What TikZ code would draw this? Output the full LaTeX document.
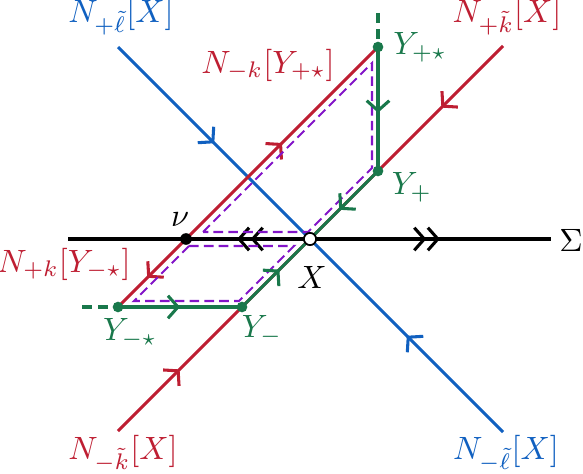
\documentclass[tikz,border=0pt]{standalone}
\usetikzlibrary{arrows.meta,decorations.markings}
\definecolor{myblue}{RGB}{16,96,192}
\definecolor{myred}{RGB}{190,30,50}
\definecolor{mygreen}{RGB}{25,120,75}
\definecolor{mypurple}{RGB}{130,20,200}
\tikzset{
  ln/.style={line width=0.95pt},
  fwd/.style={postaction={decorate,decoration={markings,mark=at position #1 with {\arrow{Straight Barb[length=3.1pt,width=7pt]}}}}},
  bwd/.style={postaction={decorate,decoration={markings,mark=at position #1 with {\arrowreversed{Straight Barb[length=3.1pt,width=7pt]}}}}},
  dfwd/.style={postaction={decorate,decoration={markings,mark=at position #1 with {\arrow{Straight Barb[length=3.1pt,width=7pt]Straight Barb[length=3.1pt,width=7pt]}}}}},
  dbwd/.style={postaction={decorate,decoration={markings,mark=at position #1 with {\arrowreversed{Straight Barb[length=3.1pt,width=7pt]Straight Barb[length=3.1pt,width=7pt]}}}}},
  pdash/.style={mypurple,line width=0.65pt,dash pattern=on 3pt off 1.6pt},
  gdash/.style={mygreen,ln,dash pattern=on 3pt off 2pt},
  fdot/.style={circle,fill,inner sep=0pt,minimum size=3.3pt},
  odot/.style={circle,draw=black,fill=white,line width=0.55pt,inner sep=0pt,minimum size=3.8pt},
  lab/.style={inner sep=0pt}
}
\begin{document}
\begin{tikzpicture}[x=0.31pt,y=-0.31pt]
\useasboundingbox (0,0) rectangle (583,473);
% points
\coordinate (X) at (310,239);
\coordinate (nu) at (186,239);
\coordinate (Yp) at (378,171);
\coordinate (Ym) at (242,307);
\coordinate (Yps) at (378,47);
\coordinate (Yms) at (118,307);
\coordinate (bl1) at (118,47);
\coordinate (bl2) at (503,432);
\coordinate (rd1) at (503,46);
\coordinate (rd2) at (118,431);
\coordinate (s1) at (68,239);
\coordinate (s2) at (551,239);
\coordinate (gtop) at (378,13);
\coordinate (gleft) at (82,307);
% purple loops
\coordinate (pa) at (203,232);
\coordinate (pb) at (372,63);
\coordinate (pc) at (372,168);
\coordinate (pd) at (308,232);
\coordinate (qa) at (189,246);
\coordinate (qb) at (294,246);
\coordinate (qc) at (239,301);
\coordinate (qd) at (134,301);
% Sigma
\draw[ln,black,dbwd=0.35,dfwd=0.77] (s1) -- (s2);
% blue
\draw[ln,myblue,fwd=0.25,bwd=0.75] (bl1) -- (bl2);
% red
\draw[ln,myred,fwd=0.16,bwd=0.84] (rd1) -- (rd2);
\draw[ln,myred,fwd=0.5] (nu) -- (Yps);
\draw[ln,myred,fwd=0.57] (nu) -- (Yms);
% purple dashed
\draw[pdash] (pa) -- (pb) -- (pc) -- (pd) -- cycle;
\draw[pdash] (qa) -- (qb) -- (qc) -- (qd) -- cycle;
% green
\draw[gdash] (gtop) -- (Yps);
\draw[gdash] (gleft) -- (Yms);
\draw[ln,mygreen,fwd=0.53] (Yps) -- (Yp);
\draw[ln,mygreen,fwd=0.57] (Yp) -- (X);
\draw[ln,mygreen,fwd=0.5] (Yms) -- (Ym);
\draw[ln,mygreen,fwd=0.55] (Ym) -- (X);
% dots
\node[fdot,mygreen] (dYps) at (Yps) {};
\node[fdot,mygreen] (dYp) at (Yp) {};
\node[fdot,mygreen] (dYm) at (Ym) {};
\node[fdot,mygreen] (dYms) at (Yms) {};
\node[fdot,black,minimum size=3.6pt] (dnu) at (nu) {};
\node[odot] (dX) at (X) {};
% labels
\node[lab,myblue] (l1) at (121,17) {$N_{+\tilde\ell}[X]$};
\node[lab,myred] (l2) at (507,17) {$N_{+\tilde k}[X]$};
\node[lab,myred] (l3) at (268,65) {$N_{-k}[Y_{+\star}]$};
\node[lab,mygreen] (l4) at (420,47) {$Y_{+\star}$};
\node[lab,mygreen] (l5) at (412,187) {$Y_{+}$};
\node[lab] (l6) at (180,220) {$\nu$};
\node[lab] (l7) at (312,277) {$X$};
\node[lab] (l8) at (571,240) {$\Sigma$};
\node[lab,myred] (l9) at (64,264) {$N_{+k}[Y_{-\star}]$};
\node[lab,mygreen] (l10) at (130,333) {$Y_{-\star}$};
\node[lab,mygreen] (l11) at (262,330) {$Y_{-}$};
\node[lab,myred] (l12) at (123,454) {$N_{-\tilde k}[X]$};
\node[lab,myblue] (l13) at (506,454) {$N_{-\tilde\ell}[X]$};
\end{tikzpicture}
\end{document}
